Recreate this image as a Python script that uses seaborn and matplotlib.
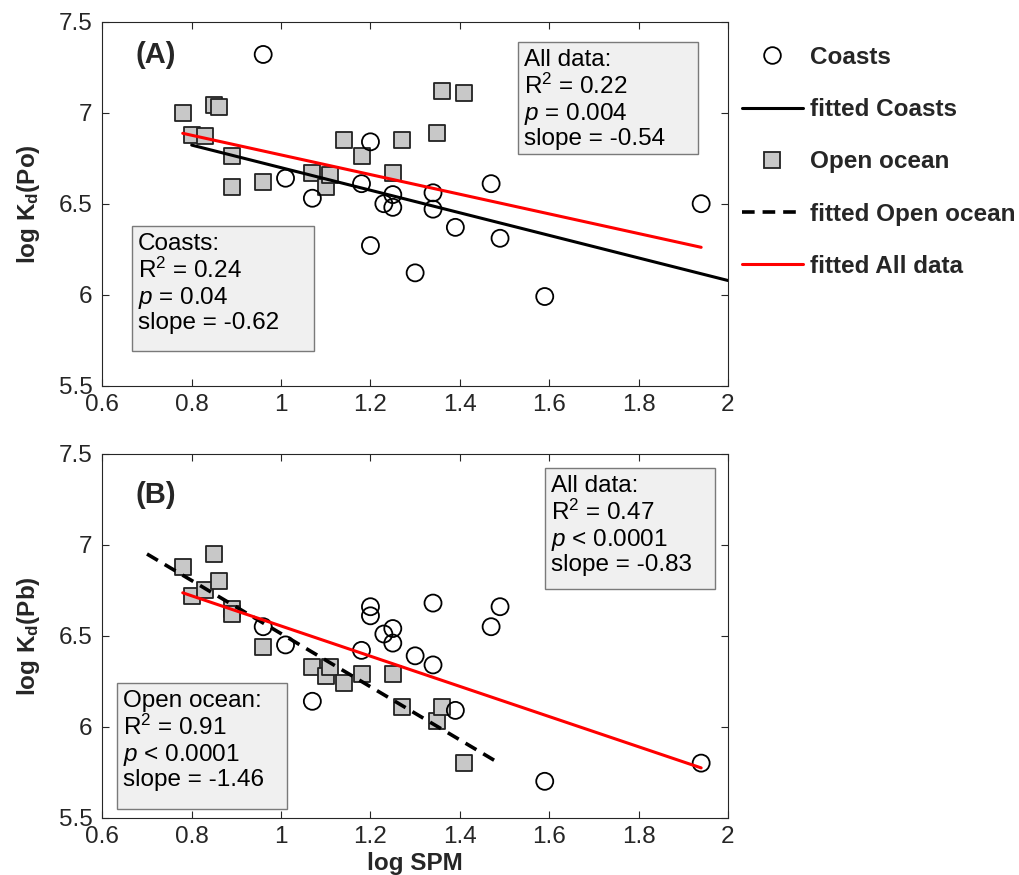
import numpy as np
import matplotlib
matplotlib.use("Agg")
import matplotlib.pyplot as plt
from matplotlib.lines import Line2D
from matplotlib.patches import Rectangle
import seaborn as sns

# ---- data: log SPM and log Kd for coastal and open-ocean stations ----
coast_spm = [0.96, 1.01, 1.07, 1.18, 1.20, 1.20, 1.23, 1.25, 1.25,
             1.30, 1.34, 1.34, 1.39, 1.47, 1.49, 1.59, 1.94]
coast_kd_po = [7.32, 6.64, 6.53, 6.61, 6.84, 6.27, 6.50, 6.55, 6.48,
               6.12, 6.56, 6.47, 6.37, 6.61, 6.31, 5.99, 6.50]
coast_kd_pb = [6.55, 6.45, 6.14, 6.42, 6.66, 6.61, 6.51, 6.54, 6.46,
               6.39, 6.68, 6.34, 6.09, 6.55, 6.66, 5.70, 5.80]

ocean_spm = [0.78, 0.80, 0.83, 0.85, 0.86, 0.89, 0.89, 0.96, 1.07,
             1.10, 1.11, 1.14, 1.18, 1.25, 1.27, 1.35, 1.36, 1.41]
ocean_kd_po = [7.00, 6.88, 6.87, 7.04, 7.03, 6.76, 6.59, 6.62, 6.67,
               6.59, 6.66, 6.85, 6.76, 6.67, 6.85, 6.89, 7.12, 7.11]
ocean_kd_pb = [6.88, 6.72, 6.75, 6.95, 6.80, 6.65, 6.62, 6.44, 6.33,
               6.28, 6.33, 6.24, 6.29, 6.29, 6.11, 6.03, 6.11, 5.80]

# regression lines: (intercept, slope, x start, x end)
fit_coast_po = (7.318, -0.62, 0.80, 2.00)
fit_all_po = (7.308, -0.54, 0.78, 1.94)
fit_ocean_pb = (7.972, -1.46, 0.70, 1.49)
fit_all_pb = (7.384, -0.83, 0.78, 1.94)

# regression statistics shown in the boxes
stats_all_po = ["All data:", "R$^2$ = 0.22", "$p$ = 0.004", "slope = -0.54"]
stats_coast_po = ["Coasts:", "R$^2$ = 0.24", "$p$ = 0.04", "slope = -0.62"]
stats_all_pb = ["All data:", "R$^2$ = 0.47", "$p$ < 0.0001", "slope = -0.83"]
stats_ocean_pb = ["Open ocean:", "R$^2$ = 0.91", "$p$ < 0.0001", "slope = -1.46"]

x_ticks = [0.6, 0.8, 1.0, 1.2, 1.4, 1.6, 1.8, 2.0]
x_tick_labels = ["0.6", "0.8", "1", "1.2", "1.4", "1.6", "1.8", "2"]
y_ticks = [5.5, 6.0, 6.5, 7.0, 7.5]
y_tick_labels = ["5.5", "6", "6.5", "7", "7.5"]

# ---- style ----
sns.set_style("ticks")
plt.rcParams["font.family"] = ["Liberation Sans", "DejaVu Sans"]
plt.rcParams["mathtext.fontset"] = "custom"
plt.rcParams["mathtext.rm"] = "Liberation Sans"
plt.rcParams["mathtext.it"] = "Liberation Sans:italic"
plt.rcParams["mathtext.bf"] = "Liberation Sans:bold"

AXIS_COLOR = "#262626"
SQUARE_FILL = "#c8c8c8"
BOX_FILL = "#f0f0f0"
BOX_EDGE = "#7a7a7a"
FS = 17.5

fig = plt.figure(figsize=(10.2, 8.75), dpi=100)
ax_a = fig.add_axes([0.1003, 0.5592, 0.6134, 0.4160])
ax_b = fig.add_axes([0.1003, 0.0655, 0.6134, 0.4157])


def fit_line(ax, fit, **kw):
    b, m, x0, x1 = fit
    xs = np.array([x0, x1])
    sns.lineplot(x=xs, y=b + m * xs, ax=ax, **kw)


def stats_box(ax, lines, x0, y0, x1, y1):
    ax.add_patch(Rectangle((x0, y0), x1 - x0, y1 - y0, transform=ax.transAxes,
                           facecolor=BOX_FILL, edgecolor=BOX_EDGE, lw=1.0,
                           zorder=5))
    offsets = [24, 52, 78, 103]
    for line, off in zip(lines, offsets):
        ax.annotate(line, xy=(x0, y1), xycoords="axes fraction",
                    xytext=(6, -off), textcoords="offset pixels",
                    ha="left", va="baseline", fontsize=FS, color="black",
                    zorder=6)


def style_axes(ax):
    ax.set_xlim(0.6, 2.0)
    ax.set_ylim(5.5, 7.5)
    ax.set_xticks(x_ticks)
    ax.set_xticklabels(x_tick_labels)
    ax.set_yticks(y_ticks)
    ax.set_yticklabels(y_tick_labels)
    ax.tick_params(direction="in", top=True, right=True, length=5,
                   width=0.8, labelsize=FS, colors=AXIS_COLOR)
    ax.tick_params(axis="y", pad=7)
    ax.tick_params(axis="x", pad=6)
    for sp in ax.spines.values():
        sp.set_visible(True)
        sp.set_color(AXIS_COLOR)
        sp.set_linewidth(0.8)
    ax.set_xlabel("")
    ax.set_ylabel("")


def scatter_groups(ax, kd_ocean, kd_coast):
    sns.scatterplot(x=ocean_spm, y=kd_ocean, ax=ax, marker="s", s=121,
                    color=SQUARE_FILL, edgecolor="#222222", linewidth=1.3,
                    zorder=3, legend=False)
    sns.scatterplot(x=coast_spm, y=kd_coast, ax=ax, marker="o", s=150,
                    facecolor="none", edgecolor="black", linewidth=1.3,
                    zorder=3, legend=False)


# ---- panel A: Po ----
scatter_groups(ax_a, ocean_kd_po, coast_kd_po)
fit_line(ax_a, fit_coast_po, color="black", lw=2.2, zorder=4)
fit_line(ax_a, fit_all_po, color="#ff0000", lw=2.2, zorder=4)
style_axes(ax_a)
stats_box(ax_a, stats_all_po, 0.664, 0.637, 0.952, 0.945)
stats_box(ax_a, stats_coast_po, 0.047, 0.095, 0.339, 0.439)
ax_a.text(0.053, 0.887, "(A)", transform=ax_a.transAxes, fontsize=21,
          fontweight="bold", va="baseline", ha="left")
ax_a.set_ylabel(r"log K$_{\mathbf{d}}$(Po)", fontsize=FS, fontweight="bold",
                labelpad=12)

# ---- panel B: Pb ----
scatter_groups(ax_b, ocean_kd_pb, coast_kd_pb)
fit_line(ax_b, fit_ocean_pb, color="black", lw=2.6, zorder=4,
         dashes=(3.5, 2.2))
fit_line(ax_b, fit_all_pb, color="#ff0000", lw=2.2, zorder=4)
style_axes(ax_b)
stats_box(ax_b, stats_all_pb, 0.707, 0.629, 0.979, 0.962)
stats_box(ax_b, stats_ocean_pb, 0.0235, 0.024, 0.295, 0.370)
ax_b.text(0.053, 0.865, "(B)", transform=ax_b.transAxes, fontsize=21,
          fontweight="bold", va="baseline", ha="left")
ax_b.set_ylabel(r"log K$_{\mathbf{d}}$(Pb)", fontsize=FS, fontweight="bold",
                labelpad=12)
ax_b.set_xlabel("log SPM", fontsize=FS, fontweight="bold", labelpad=3)

# ---- legend ----
handles = [
    Line2D([], [], ls="none", marker="o", markersize=12, markerfacecolor="none",
           markeredgecolor="black", markeredgewidth=1.3),
    Line2D([], [], color="black", lw=2.2),
    Line2D([], [], ls="none", marker="s", markersize=11,
           markerfacecolor=SQUARE_FILL, markeredgecolor="#222222",
           markeredgewidth=1.3),
    Line2D([], [], color="black", lw=2.6, dashes=(3.5, 2.2)),
    Line2D([], [], color="#ff0000", lw=2.2),
]
labels = ["Coasts", "fitted Coasts", "Open ocean", "fitted Open ocean",
          "fitted All data"]
fig.legend(handles, labels, loc="upper left",
           bbox_to_anchor=(742 / 1020, 1 - 46 / 875), frameon=False,
           prop={"size": FS, "weight": "bold"}, handlelength=2.5,
           handletextpad=0.3, labelspacing=1.2, borderpad=0, borderaxespad=0)

fig.savefig("out.png", dpi=100)
